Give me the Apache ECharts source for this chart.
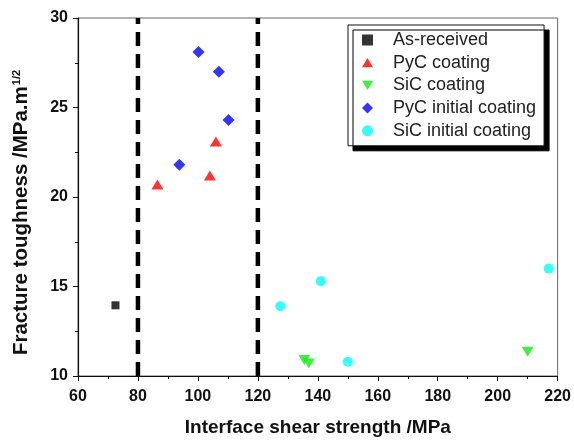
<!DOCTYPE html>
<html><head><meta charset="utf-8">
<script src="https://cdn.jsdelivr.net/npm/echarts@6/dist/echarts.min.js"></script>
<style>html,body{margin:0;padding:0;background:#fff}#c{width:574px;height:442px}</style>
</head><body><div id="c"></div>
<script>
var seriesNames = ['As-received', 'PyC coating', 'SiC coating', 'PyC initial coating', 'SiC initial coating'];
var asReceived = [[72.5, 13.95]];
var pycCoating = [[86.5, 20.7], [104.0, 21.2], [106.0, 23.1]];
var sicCoating = [[135.5, 10.9], [137.0, 10.7], [210.0, 11.35]];
var pycInitial = [[100.2, 28.1], [107.0, 27.0], [110.2, 24.3], [93.8, 21.8]];
var sicInitial = [[127.5, 13.9], [141.0, 15.3], [150.0, 10.8], [217.0, 16.0]];
var boundaries = [80, 120];
var xTicks = [60, 80, 100, 120, 140, 160, 180, 200, 220];
var yTicks = [10, 15, 20, 25, 30];

var chart = echarts.init(document.getElementById('c'));
var font = 'Liberation Sans, Arial, sans-serif';
var downTri = 'path://M0,0L12,0L6,10Z';
var upTri = 'path://M6,0L12,10L0,10Z';
function sc(name, data, symbol, color, size) {
  return {name: name, type: 'scatter', data: data, symbol: symbol, symbolSize: size,
    symbolKeepAspect: true, itemStyle: {color: color}, z: 5};
}
var series = [
  sc(seriesNames[0], asReceived, 'rect', '#000000', 8),
  sc(seriesNames[1], pycCoating, upTri, '#ff0000', 12),
  sc(seriesNames[2], sicCoating, downTri, '#11ee11', 12),
  sc(seriesNames[3], pycInitial, 'diamond', '#0000ff', 12),
  sc(seriesNames[4], sicInitial, 'circle', '#00ffff', 10)
];
boundaries.forEach(function (b) {
  series.push({type: 'line', data: [[b, yTicks[0]], [b, yTicks[yTicks.length - 1]]],
    symbol: 'none', silent: true, z: 3,
    lineStyle: {color: '#000', width: 4.5, type: [14, 8]}});
});
chart.setOption({
  animation: false,
  backgroundColor: '#fff',
  grid: {left: 78, right: 16, top: 18, bottom: 66, show: true, borderColor: '#666', borderWidth: 1},
  legend: {
    data: seriesNames.map(function (n) { return {name: n}; }),
    orient: 'vertical', left: 348, top: 25,
    backgroundColor: '#fff', borderColor: '#111', borderWidth: 1,
    shadowColor: '#000', shadowOffsetX: 5, shadowOffsetY: 5, shadowBlur: 0.01,
    padding: [6, 8, 6, 14], itemWidth: 11, itemHeight: 11, itemGap: 4.7,
    textStyle: {fontFamily: font, fontSize: 18, color: '#222', padding: [0, 0, 0, 15]}
  },
  xAxis: {
    type: 'value', min: xTicks[0], max: xTicks[xTicks.length - 1], interval: 20,
    name: 'Interface shear strength /MPa', nameLocation: 'middle', nameGap: 42,
    nameTextStyle: {fontFamily: font, fontSize: 19, fontWeight: 'bold', color: '#111'},
    axisLine: {lineStyle: {color: '#111', width: 1.2}},
    axisTick: {inside: false, length: 5, lineStyle: {color: '#111'}},
    minorTick: {show: true, splitNumber: 2, length: 3, lineStyle: {color: '#111'}},
    splitLine: {show: false},
    axisLabel: {fontFamily: font, fontSize: 16, fontWeight: 'bold', color: '#111', margin: 13}
  },
  yAxis: {
    type: 'value', min: yTicks[0], max: yTicks[yTicks.length - 1], interval: 5,
    name: '{a|Fracture toughness /MPa.m}{s|1/2}', nameLocation: 'middle', nameGap: 46, nameRotate: 90,
    nameTextStyle: {fontFamily: font, fontSize: 20.5, fontWeight: 'bold', color: '#111', padding: [0, 31, 0, 0],
      rich: {a: {fontFamily: font, fontSize: 20.5, fontWeight: 'bold', color: '#111'},
             s: {fontFamily: font, fontSize: 11, fontWeight: 'bold', color: '#111', verticalAlign: 'top', padding: [0, 0, 10, 1]}}},
    axisLine: {lineStyle: {color: '#111', width: 1.2}},
    axisTick: {inside: false, length: 5, lineStyle: {color: '#111'}},
    minorTick: {show: true, splitNumber: 2, length: 3, lineStyle: {color: '#111'}},
    splitLine: {show: false},
    axisLabel: {fontFamily: font, fontSize: 16, fontWeight: 'bold', color: '#111', margin: 10}
  },
  series: series
});
</script></body></html>
